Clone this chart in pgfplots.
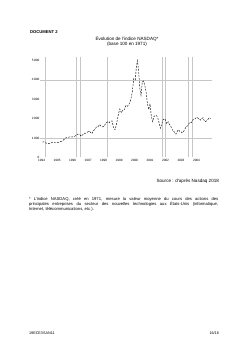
\documentclass[border=0pt]{standalone}
\usepackage{pgfplots}
\pgfplotsset{compat=1.18}
\usepackage{fontspec}
\setmainfont{Liberation Sans}
\begin{document}
\begin{tikzpicture}
\useasboundingbox[fill=white] (0,0) rectangle (595.2pt,842.4pt);
\begin{scope}[x=2.4pt,y=-2.4pt,shift={(0,842.4pt)}]
\node[anchor=west,font=\bfseries\fontsize{10}{12}\selectfont,inner sep=0] at (30,32) {DOCUMENT 2};
\node[align=center,font=\fontsize{11}{11.5}\selectfont,inner sep=0] at (127,41.7) {Évolution de l'indice NASDAQ*\\(base 100 en 1971)};
\node[anchor=east,font=\fontsize{11}{12}\selectfont,inner sep=0] at (219,181.7) {Source : d'après Nasdaq 2018};
\node[anchor=north west,inner sep=0,text width=454pt,align=justify,font=\fontsize{10}{12}\selectfont] at (29,197.5) {* L'indice NASDAQ, créé en 1971, mesure la valeur moyenne du cours des actions des\linebreak principales entreprises du secteur des nouvelles technologies aux États-Unis (informatique,\linebreak Internet, télécommunications, etc.).};
\node[anchor=west,font=\fontsize{9}{11}\selectfont,inner sep=0] at (29,333) {19ECE3SAN11};
\node[anchor=east,font=\fontsize{9}{11}\selectfont,inner sep=0] at (219,333) {16/16};
\end{scope}
\begin{axis}[
  at={(96pt,464.88pt)}, anchor=south west,
  width=412.8pt, height=241.44pt, scale only axis,
  xmin=1993.9, xmax=2005.0, ymin=0, ymax=5200,
  axis line style={draw=none}, major tick length=0pt,
  xtick={1994,...,2004},
  xticklabels={1994,1995,1996,1997,1998,1999,2000,2001,2002,2003,2004},
  ytick={0,1000,2000,3000,4000,5000},
  yticklabels={0,1\,000,2\,000,3\,000,4\,000,5\,000},
  tick label style={font=\fontsize{7.5}{9}\selectfont},
  /pgf/number format/assume math mode=true,
  xticklabel style={yshift=-1.5pt},
  yticklabel style={xshift=2pt},
  extra x ticks={1994.23,1996.23,1996.49,1998.23,2001.78,2001.97,2003.46,2003.72},
  extra x tick labels={},
  extra y ticks={1000,4000},
  extra y tick labels={},
  extra tick style={grid=major, major grid style={gray!45, line width=1.1pt}, major tick length=0pt},
  clip=false,
]
\addplot[black, line width=1pt, dash pattern=on 4.5pt off 3pt] coordinates {
(1994.05,790) (1994.15,800) (1994.25,745) (1994.35,730) (1994.45,705) (1994.55,720)
(1994.65,760) (1994.75,765) (1994.85,750) (1994.95,750) (1995.05,760) (1995.15,790)
(1995.25,820) (1995.35,850) (1995.45,920) (1995.55,1000) (1995.65,1020) (1995.75,1040)
(1995.85,1060) (1995.95,1050) (1996.05,1060) (1996.15,1090) (1996.25,1150) (1996.35,1200)
(1996.45,1190) (1996.55,1090) (1996.65,1160) (1996.75,1220) (1996.85,1250) (1996.95,1290)
(1997.05,1360) (1997.15,1300) (1997.25,1230) (1997.35,1380) (1997.45,1440) (1997.55,1580)
(1997.65,1590) (1997.75,1690) (1997.85,1600) (1997.95,1570) (1998.05,1620) (1998.15,1770)
(1998.25,1830) (1998.35,1780) (1998.45,1870) (1998.55,1880) (1998.65,1500) (1998.75,1420)
(1998.85,1770) (1998.95,2190) (1999.05,2500) (1999.15,2300) (1999.25,2460) (1999.35,2470)
(1999.45,2690) (1999.55,2640) (1999.65,2750) (1999.75,2960) (1999.85,3340) (1999.95,4070)
(2000.05,4000) (2000.12,4700) (2000.19,5000) (2000.27,4400) (2000.35,3500) (2000.42,3200)
(2000.50,3900) (2000.58,3950) (2000.67,3700) (2000.75,3370) (2000.83,2800) (2000.92,2470)
(2001.00,2770) (2001.08,2150) (2001.17,1840) (2001.25,2110) (2001.33,2150) (2001.42,2160)
(2001.50,2030) (2001.58,1800) (2001.67,1500) (2001.75,1690) (2001.83,1930) (2001.92,1990)
(2002.00,1930) (2002.08,1730) (2002.17,1840) (2002.25,1690) (2002.33,1620) (2002.42,1460)
(2002.50,1330) (2002.58,1310) (2002.67,1200) (2002.75,1330) (2002.83,1430) (2002.92,1340)
(2003.00,1320) (2003.08,1260) (2003.17,1340) (2003.25,1460) (2003.33,1590) (2003.42,1620)
(2003.50,1730) (2003.58,1810) (2003.67,1790) (2003.75,1930) (2003.83,1960) (2003.92,2000)
(2004.00,2070) (2004.08,2030) (2004.17,1990) (2004.25,1920) (2004.33,1990) (2004.42,2050)
(2004.50,1890) (2004.58,1840) (2004.67,1900) (2004.75,1970) (2004.83,2050) (2004.90,2000)
};
\end{axis}
\end{tikzpicture}
\end{document}
